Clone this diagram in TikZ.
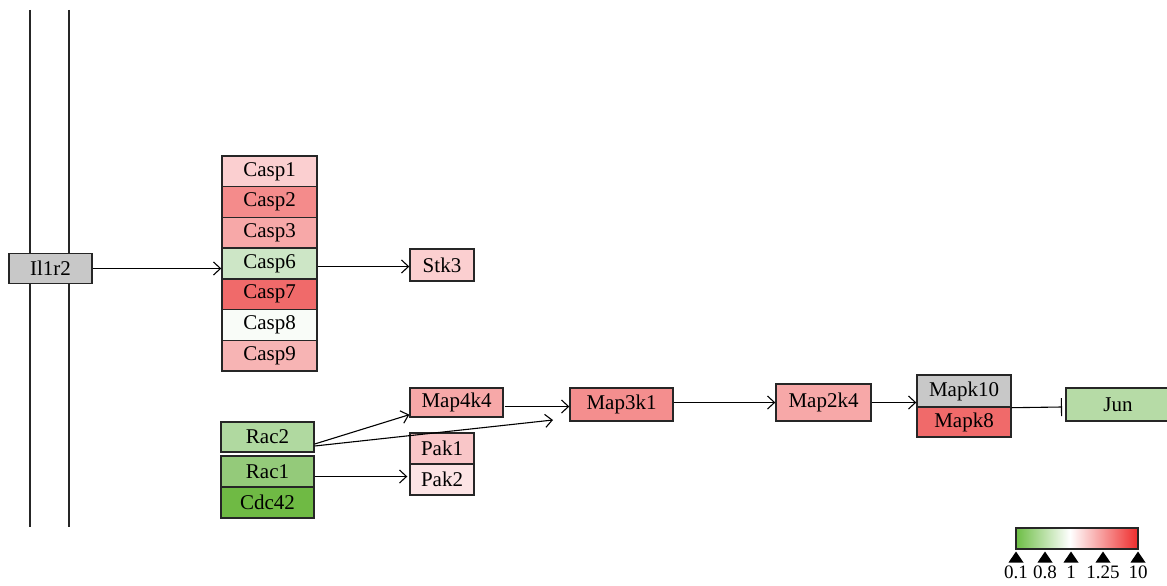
\documentclass[tikz,border=0pt]{standalone}
\usepackage{fontspec}
\setmainfont{Liberation Serif}
\usetikzlibrary{arrows.meta,calc}
\definecolor{cgray}{HTML}{C8C8C8}
\definecolor{cpink}{HTML}{FBCFD0}
\definecolor{cred2}{HTML}{F48B8B}
\definecolor{cred3}{HTML}{F7A8A8}
\definecolor{cgreen6}{HTML}{CDE6C6}
\definecolor{cred7}{HTML}{F06A6A}
\definecolor{cwhite8}{HTML}{F9FCF8}
\definecolor{cred9}{HTML}{F7B4B4}
\definecolor{cmap3}{HTML}{F48E8E}
\definecolor{cjun}{HTML}{B6DBA6}
\definecolor{crac2}{HTML}{B0D9A0}
\definecolor{crac1}{HTML}{94CA7A}
\definecolor{ccdc}{HTML}{6FBA44}
\definecolor{cpak1}{HTML}{F9C6C8}
\definecolor{cpak2}{HTML}{FCE4E5}
\definecolor{lgreen}{HTML}{6DBE45}
\definecolor{lred}{HTML}{EE2C2C}
\begin{document}
\begin{tikzpicture}[x=1pt,y=-1pt,
  gene/.style={draw=black!85, line width=1.4pt, inner sep=0pt, font=\fontsize{21}{23}\selectfont, text=black},
  arr/.style={-{Straight Barb[length=7pt,width=13pt,line width=1.1pt]}, line width=1.1pt, black},
  inh/.style={-{Bar[width=18pt,line width=1.1pt]}, line width=1.1pt, black},
  wall/.style={line width=1.4pt, black!85},
  tri/.style={fill=black},
  lab/.style={font=\fontsize{19}{21}\selectfont, inner sep=0pt, anchor=north}]
\useasboundingbox (0,0) rectangle (1167,586);
% membrane lines
\coordinate (w1t) at (30,10); \coordinate (w1b) at (30,527);
\coordinate (w2t) at (69,10); \coordinate (w2b) at (69,527);
\draw[wall] (w1t) -- (w1b);
\draw[wall] (w2t) -- (w2b);
% nodes
\node[gene, fill=cgray, minimum width=83, minimum height=30] (il1r2) at (50.5,268.5) {Il1r2};
\node[gene, fill=cpink, minimum width=95, minimum height=30.7] (casp1) at (269.5,171.4) {Casp1};
\node[gene, fill=cred2, minimum width=95, minimum height=30.7] (casp2) at (269.5,202.1) {Casp2};
\node[gene, fill=cred3, minimum width=95, minimum height=30.7] (casp3) at (269.5,232.8) {Casp3};
\node[gene, fill=cgreen6, minimum width=95, minimum height=30.7] (casp6) at (269.5,263.5) {Casp6};
\node[gene, fill=cred7, minimum width=95, minimum height=30.7] (casp7) at (269.5,294.2) {Casp7};
\node[gene, fill=cwhite8, minimum width=95, minimum height=30.7] (casp8) at (269.5,324.9) {Casp8};
\node[gene, fill=cred9, minimum width=95, minimum height=30.7] (casp9) at (269.5,355.6) {Casp9};
\node[gene, fill=cpink, minimum width=64, minimum height=32] (stk3) at (442,265) {Stk3};
\node[gene, fill=cred3, minimum width=93, minimum height=29] (map4k4) at (456.5,402.5) {Map4k4};
\node[gene, fill=cmap3, minimum width=103, minimum height=33] (map3k1) at (621.5,404.5) {Map3k1};
\node[gene, fill=cred3, minimum width=95, minimum height=37] (map2k4) at (823.5,402.5) {Map2k4};
\node[gene, fill=cgray, minimum width=94, minimum height=32] (mapk10) at (964,391) {Mapk10};
\node[gene, fill=cred7, minimum width=94, minimum height=30] (mapk8) at (964,422) {Mapk8};
\node[gene, fill=cjun, minimum width=104, minimum height=33] (jun) at (1118,404.5) {Jun};
\node[gene, fill=crac2, minimum width=93, minimum height=30] (rac2) at (267.5,437) {Rac2};
\node[gene, fill=crac1, minimum width=93, minimum height=31] (rac1) at (267.5,471.5) {Rac1};
\node[gene, fill=ccdc, minimum width=93, minimum height=31] (cdc42) at (267.5,502.5) {Cdc42};
\node[gene, fill=cpak1, minimum width=64, minimum height=31] (pak1) at (442,448.5) {Pak1};
\node[gene, fill=cpak2, minimum width=64, minimum height=31] (pak2) at (442,479.5) {Pak2};
% connectors
\draw[arr] (il1r2.east) -- (il1r2.east -| casp6.west);
\draw[arr] ([yshift=-3pt]casp6.east) -- ([yshift=-3pt]casp6.east -| stk3.west);
\draw[arr] ([yshift=-7pt]rac2.east) -- ([yshift=3pt]map4k4.south west);
\coordinate (m3in) at (553,420);
\draw[arr] ([yshift=-9pt]rac2.east) -- (m3in);
\draw[arr] ([yshift=-5pt]rac1.east) -- ([yshift=-5pt,xshift=-2pt]rac1.east -| pak2.west);
\draw[arr] ([xshift=1pt,yshift=-4pt]map4k4.east) -- ([yshift=-4pt]map4k4.east -| map3k1.west);
\draw[arr] (map3k1.east |- map2k4.west) -- (map2k4.west);
\draw[arr] (map2k4.east) -- (map2k4.east -| mapk10.west);
\coordinate (junbar) at (1062,407);
\draw[inh] (mapk10.south east) -- (junbar);
% legend
\coordinate (lg1) at (1016,528); \coordinate (lg2) at (1138,549);
\shade[left color=lgreen, right color=white] (1016,528) rectangle (1070,549);
\shade[left color=white, right color=lred] (1070,528) rectangle (1138,549);
\draw[line width=1.4pt, black!85] (lg1) rectangle (lg2);
\foreach \x/\t/\n in {1016/0.1/a,1045/0.8/b,1071/1/c,1103/1.25/d,1138/10/e}{
  \fill[tri] (\x-7.5,562.5) -- (\x+7.5,562.5) -- (\x,551.5) -- cycle;
  \node[lab] (l\n) at (\x,566) {\t};
}
\end{tikzpicture}
\end{document}
